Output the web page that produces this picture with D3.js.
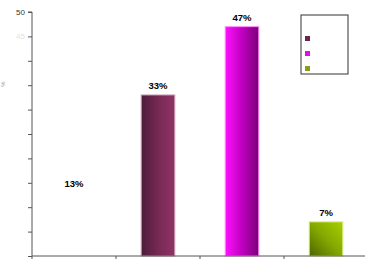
<!DOCTYPE html>
<meta charset="utf-8">
<title>Bars</title>
<style>
body { margin: 0; background: #fff; }
text { font-family: Arial, "Liberation Sans", sans-serif; }
</style>
<body>
<script src="https://cdn.jsdelivr.net/npm/d3@7/dist/d3.min.js"></script>
<script>
var categories = ["A", "B", "C", "D"],
    values = [13, 33, 47, 7],
    labels = ["13%", "33%", "47%", "7%"],
    yTicks = [0, 5, 10, 15, 20, 25, 30, 35, 40, 45, 50],
    yTickLabels = {50: "50", 45: "45"};

var w = 365, h = 271,
    mLeft = 32, mRight = 368, mTop = 12, mBottom = 256;

var svg = d3.select("body").append("svg")
    .attr("width", w)
    .attr("height", h);

var defs = svg.append("defs");

function grad(id, x2, y2, stops) {
  var g = defs.append("linearGradient").attr("id", id)
      .attr("x1", 0).attr("y1", y2 ? 1 : 0).attr("x2", x2).attr("y2", 0);
  stops.forEach(function(s) {
    g.append("stop").attr("offset", s[0]).attr("stop-color", s[1]);
  });
}
grad("g0", 1, 0, [[0, "#ffffff"], [1, "#ffffff"]]);
grad("g1", 1, 0, [[0, "#4c1c3a"], [0.55, "#7a2a56"], [1, "#8e3464"]]);
grad("g2", 1, 0, [[0, "#ff10ff"], [0.5, "#c000c0"], [1, "#7a0078"]]);
grad("g3", 1, 1, [[0, "#4e6400"], [0.5, "#84a800"], [1, "#a8d000"]]);

var fills = ["url(#g0)", "url(#g1)", "url(#g2)", "url(#g3)"],
    strokes = ["#ffffff", "#c9a0b6", "#ff90ff", "#d8f080"],
    legendColors = ["#6e2448", "#e010e0", "#88a010"];

var x = d3.scaleBand().domain(categories).range([mLeft, mRight]).paddingInner(0.6).paddingOuter(0.3);
var xOuter = d3.scaleBand().domain(categories).range([mLeft, mRight]);
var y = d3.scaleLinear().domain([0, 50]).range([mBottom, mTop]);

// bars
svg.selectAll("rect.bar")
    .data(values)
  .enter().append("rect")
    .attr("class", "bar")
    .attr("x", function(d, i) { return x(categories[i]); })
    .attr("y", function(d) { return y(d); })
    .attr("width", x.bandwidth())
    .attr("height", function(d) { return y(0) - y(d); })
    .style("fill", function(d, i) { return fills[i]; })
    .style("stroke", function(d, i) { return strokes[i]; })
    .style("stroke-width", 1);

svg.selectAll("text.val")
    .data(values)
  .enter().append("text")
    .attr("class", "val")
    .attr("x", function(d, i) { return x(categories[i]) + x.bandwidth() / 2; })
    .attr("y", function(d) { return y(d) - 6; })
    .attr("text-anchor", "middle")
    .style("font-size", "9.5px")
    .style("font-weight", "bold")
    .text(function(d, i) { return labels[i]; });

// y axis
var yAxis = d3.axisLeft(y).tickValues(yTicks).tickSize(4)
    .tickFormat(function(d) { return yTickLabels[d] || ""; });
var gy = svg.append("g").attr("transform", "translate(" + mLeft + ",0)").call(yAxis);
gy.select(".domain").attr("stroke", "#555").attr("d", "M-4," + mTop + "H0V" + mBottom);
gy.selectAll(".tick line").attr("stroke", "#555");
gy.selectAll(".tick text").style("font-size", "8px").attr("fill", "#333").attr("x", -7)
    .style("opacity", function(d) { return d == 45 ? 0.15 : 1; });

// x axis
var gx = svg.append("g").attr("transform", "translate(0," + mBottom + ")");
gx.append("line").attr("x1", mLeft).attr("x2", w).attr("stroke", "#555");
gx.selectAll("line.t")
    .data(categories)
  .enter().append("line")
    .attr("class", "t")
    .attr("x1", function(d) { return xOuter(d); })
    .attr("x2", function(d) { return xOuter(d); })
    .attr("y2", 3)
    .attr("stroke", "#555");

// faint axis title
svg.append("text")
    .attr("transform", "translate(5,84)rotate(-90)")
    .attr("text-anchor", "middle")
    .style("font-size", "6px")
    .attr("fill", "#999")
    .text("%");

// legend
var lg = svg.append("g").attr("transform", "translate(301,15)");
lg.append("rect").attr("width", 47).attr("height", 59)
    .attr("fill", "#fff").attr("stroke", "#333").attr("stroke-width", 1);
lg.selectAll("rect.sw")
    .data(legendColors)
  .enter().append("rect")
    .attr("class", "sw")
    .attr("x", 4)
    .attr("y", function(d, i) { return 21 + i * 15; })
    .attr("width", 5)
    .attr("height", 5)
    .attr("fill", function(d) { return d; });
</script>
